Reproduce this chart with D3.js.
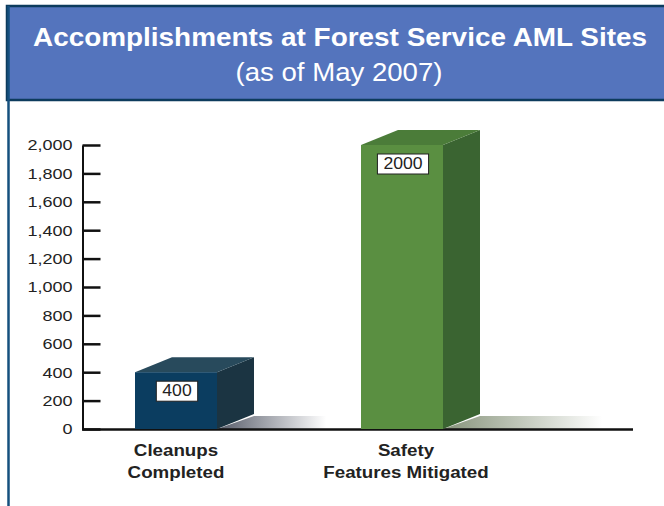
<!DOCTYPE html>
<meta charset="utf-8">
<style>
body { margin: 0; background: #fff; font-family: "Liberation Sans", Arial, sans-serif; }
</style>
<body>
<svg width="664" height="506"></svg>
<script src="https://d3js.org/d3.v7.min.js"></script>
<script>

var categories = [["Cleanups", "Completed"], ["Safety", "Features Mitigated"]];
var values = [400, 2000];
var yTicks = [0, 200, 400, 600, 800, 1000, 1200, 1400, 1600, 1800, 2000];

var colors = [
  {front: "#0b3d60", top: "#284a5c", side: "#1b3442", shadow: "#555a68"},
  {front: "#5a8f41", top: "#4b7c39", side: "#3a6431", shadow: "#86937a"}
];

// the source font is wider than Arial, so stretch text horizontally
function stretch(sel, k) {
  sel.each(function() {
    var w = this.getComputedTextLength();
    d3.select(this).attr("textLength", w * k).attr("lengthAdjust", "spacingAndGlyphs");
  });
}

var svg = d3.select("svg");

// header band
svg.append("rect")
  .attr("x", 7).attr("y", 6)
  .attr("width", 670).attr("height", 94)
  .attr("fill", "#5474bd")
  .attr("stroke", "#0d3b5d")
  .attr("stroke-width", 2.5);

svg.append("line")
  .attr("x1", 8.5).attr("x2", 8.5)
  .attr("y1", 6).attr("y2", 506)
  .attr("stroke", "#15507e")
  .attr("stroke-width", 2.5);

svg.append("text")
  .attr("x", 340).attr("y", 46)
  .attr("text-anchor", "middle")
  .attr("fill", "#fff")
  .style("font-size", "25px")
  .style("font-weight", "bold")
  .attr("textLength", 614)
  .attr("lengthAdjust", "spacingAndGlyphs")
  .text("Accomplishments at Forest Service AML Sites");

svg.append("text")
  .attr("x", 339).attr("y", 81)
  .attr("text-anchor", "middle")
  .attr("fill", "#fff")
  .style("font-size", "25px")
  .attr("textLength", 207)
  .attr("lengthAdjust", "spacingAndGlyphs")
  .text("(as of May 2007)");

var y = d3.scaleLinear().domain([0, 2000]).range([429, 145]);
var x = d3.scalePoint().domain([0, 1]).range([176, 402]);
var barW = 82, dx = 37, dy = -15;

var defs = svg.append("defs");
colors.forEach(function(c, i) {
  var gr = defs.append("linearGradient").attr("id", "sh" + i)
    .attr("x1", "0").attr("x2", "1").attr("y1", "0").attr("y2", "0");
  gr.append("stop").attr("offset", "0").attr("stop-color", c.shadow);
  gr.append("stop").attr("offset", "0.92").attr("stop-color", "#fff");
});

// floor shadows, longer for taller bars
values.forEach(function(v, i) {
  var x0 = x(i) + barW / 2, y0 = y(0);
  var len = 68 + (y(0) - y(v)) * 0.24;
  svg.append("path")
    .attr("d", "M" + x0 + "," + y0 +
      "L" + (x0 + dx) + "," + (y0 + dy + 2) +
      "L" + (x0 + dx + len) + "," + (y0 + dy + 2) +
      "L" + (x0 + dx + len - 8) + "," + y0 + "Z")
    .attr("fill", "url(#sh" + i + ")");
});

// y axis
var yAxis = d3.axisLeft(y)
  .tickValues(yTicks)
  .tickSizeInner(-18)
  .tickSizeOuter(0)
  .tickPadding(10)
  .tickFormat(d3.format(","));

var gy = svg.append("g").attr("transform", "translate(82.5,0)").call(yAxis);
gy.select(".domain").attr("stroke", "#111").attr("stroke-width", 2);
gy.selectAll(".tick line").attr("stroke", "#111").attr("stroke-width", 2.5);
gy.selectAll(".tick text")
  .attr("fill", "#222")
  .style("font-size", "15px")
  .style("font-family", "Liberation Sans, Arial, sans-serif")
  .call(stretch, 1.2);

// x axis line
svg.append("line")
  .attr("x1", 82).attr("x2", 633)
  .attr("y1", y(0) + 0.5).attr("y2", y(0) + 0.5)
  .attr("stroke", "#111").attr("stroke-width", 2.5);

// 3d bars
var bars = svg.selectAll(".bar").data(values).enter().append("g").attr("class", "bar");

bars.append("path")
  .attr("fill", function(d, i) { return colors[i].side; })
  .attr("d", function(d, i) {
    var r = x(i) + barW / 2;
    return "M" + r + "," + y(0) + "L" + (r + dx) + "," + (y(0) + dy) +
      "L" + (r + dx) + "," + (y(d) + dy) + "L" + r + "," + y(d) + "Z";
  });

bars.append("path")
  .attr("fill", function(d, i) { return colors[i].top; })
  .attr("d", function(d, i) {
    var l = x(i) - barW / 2, r = x(i) + barW / 2;
    return "M" + l + "," + y(d) + "L" + (l + dx) + "," + (y(d) + dy) +
      "L" + (r + dx) + "," + (y(d) + dy) + "L" + r + "," + y(d) + "Z";
  });

bars.append("rect")
  .attr("x", function(d, i) { return x(i) - barW / 2; })
  .attr("y", function(d) { return y(d); })
  .attr("width", barW)
  .attr("height", function(d) { return y(0) - y(d); })
  .attr("fill", function(d, i) { return colors[i].front; });

// value labels
bars.each(function(d, i) {
  var g = d3.select(this);
  var t = g.append("text")
    .attr("x", x(i) + 1)
    .attr("y", y(d) + 24)
    .attr("text-anchor", "middle")
    .attr("fill", "#222")
    .style("font-size", "16px")
    .text(d)
    .call(stretch, 1.1);
  var w = +t.attr("textLength") + 12;
  g.insert("rect", "text")
    .attr("x", x(i) + 1 - w / 2)
    .attr("y", y(d) + 9)
    .attr("width", w).attr("height", 20)
    .attr("fill", "#fff")
    .attr("stroke", "#222")
    .attr("stroke-width", 1);
});

// category labels
categories.forEach(function(lines, i) {
  lines.forEach(function(s, j) {
    svg.append("text")
      .attr("x", x(i) + (i ? 4 : 0))
      .attr("y", 456 + j * 22)
      .attr("text-anchor", "middle")
      .attr("fill", "#222")
      .style("font-size", "16px")
      .style("font-weight", "bold")
      .text(s)
      .call(stretch, 1.17);
  });
});

</script>
</body>
